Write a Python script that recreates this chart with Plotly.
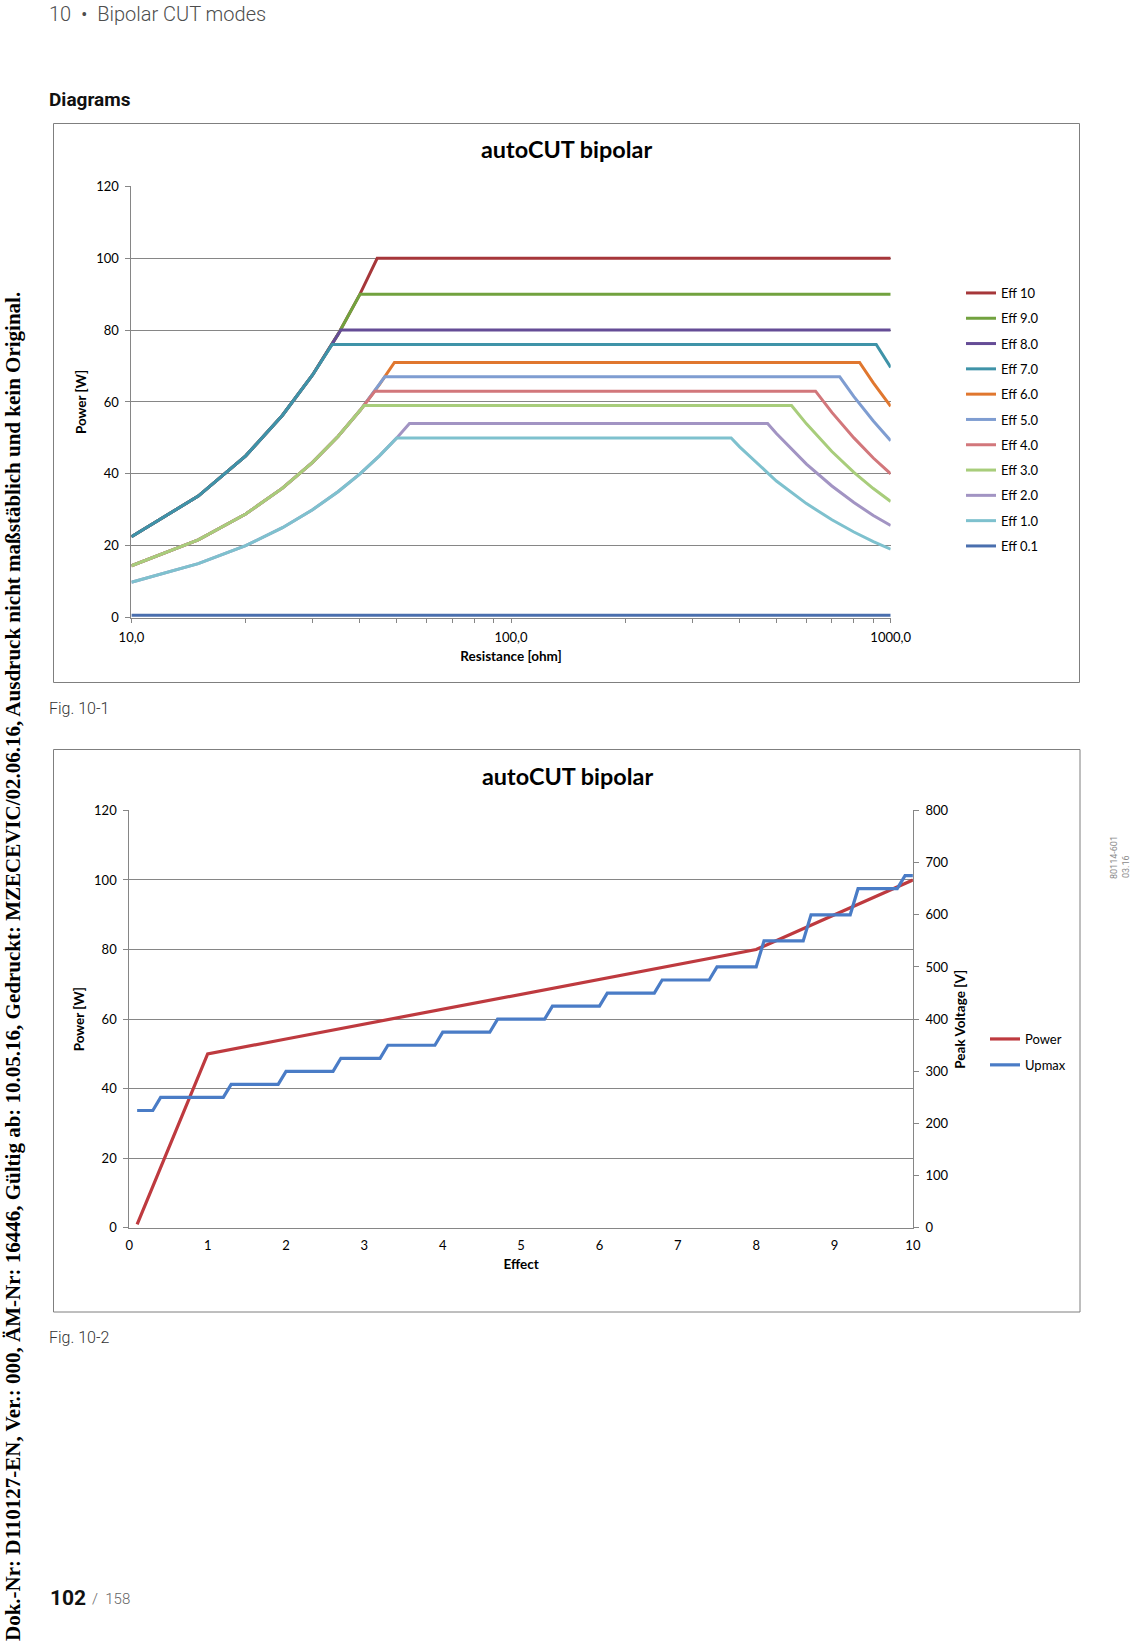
import plotly.graph_objects as go

W, H = 1134, 1643

# ---------------- Fig. 10-1 data (Resistance [ohm] -> Power [W]) ----------------
series_names = ["Eff 10", "Eff 9.0", "Eff 8.0", "Eff 7.0", "Eff 6.0", "Eff 5.0",
                "Eff 4.0", "Eff 3.0", "Eff 2.0", "Eff 1.0", "Eff 0.1"]
series_colors = ["#A6373A", "#72A23F", "#654C96", "#3F93A8", "#E0772F", "#7F9DD1",
                 "#D2777B", "#A8CD7B", "#A294C3", "#7EC1CE", "#4A6FAE"]

eff10_r = [10, 15, 20, 25, 30, 35, 40, 44.4, 1000]
eff10_p = [22.5, 33.8, 45.0, 56.3, 67.5, 78.8, 90.0, 100.0, 100.0]
eff9_r = [10, 15, 20, 25, 30, 35, 40, 1000]
eff9_p = [22.5, 33.8, 45.0, 56.3, 67.5, 78.8, 90.0, 90.0]
eff8_r = [10, 15, 20, 25, 30, 35.6, 1000]
eff8_p = [22.5, 33.8, 45.0, 56.3, 67.5, 80.0, 80.0]
eff7_r = [10, 15, 20, 25, 30, 33.8, 916, 1000]
eff7_p = [22.5, 33.8, 45.0, 56.3, 67.5, 76.0, 76.0, 69.6]
eff6_r = [10, 15, 20, 25, 30, 35, 40, 45, 49.3, 828, 900, 1000]
eff6_p = [14.4, 21.6, 28.8, 36.0, 43.2, 50.4, 57.6, 64.8, 71.0, 71.0, 65.3, 58.8]
eff5_r = [10, 15, 20, 25, 30, 35, 40, 45, 46.5, 734, 800, 900, 1000]
eff5_p = [14.4, 21.6, 28.8, 36.0, 43.2, 50.4, 57.6, 64.8, 67.0, 67.0, 61.5, 54.7, 49.2]
eff4_r = [10, 15, 20, 25, 30, 35, 40, 43.8, 634, 700, 800, 900, 1000]
eff4_p = [14.4, 21.6, 28.8, 36.0, 43.2, 50.4, 57.6, 63.0, 63.0, 57.1, 50.0, 44.4, 40.0]
eff3_r = [10, 15, 20, 25, 30, 35, 40, 41, 548, 600, 700, 800, 900, 1000]
eff3_p = [14.4, 21.6, 28.8, 36.0, 43.2, 50.4, 57.6, 59.0, 59.0, 53.9, 46.2, 40.4, 35.9, 32.3]
eff2_r = [10, 15, 20, 25, 30, 35, 40, 45, 50, 54, 474, 500, 600, 700, 800, 900, 1000]
eff2_p = [9.8, 15, 20, 25, 30, 35, 40, 45, 50, 54, 54, 51.2, 42.7, 36.6, 32.0, 28.4, 25.6]
eff1_r = [10, 15, 20, 25, 30, 35, 40, 45, 50, 380, 400, 500, 600, 700, 800, 900, 1000]
eff1_p = [9.8, 15, 20, 25, 30, 35, 40, 45, 50, 50, 47.5, 38.0, 31.7, 27.2, 23.8, 21.1, 19.0]
eff01_r = [10, 1000]
eff01_p = [0.6, 0.6]

top_r = [eff10_r, eff9_r, eff8_r, eff7_r, eff6_r, eff5_r, eff4_r, eff3_r, eff2_r, eff1_r, eff01_r]
top_p = [eff10_p, eff9_p, eff8_p, eff7_p, eff6_p, eff5_p, eff4_p, eff3_p, eff2_p, eff1_p, eff01_p]

x1_tickvals = [10, 20, 30, 40, 50, 60, 70, 80, 90, 100, 200, 300, 400, 500, 600, 700, 800, 900, 1000]
x1_ticktext = ["10,0", "", "", "", "", "", "", "", "", "100,0", "", "", "", "", "", "", "", "", "1000,0"]

# ---------------- Fig. 10-2 data (Effect -> Power [W], Upmax [V]) ----------------
effect_power = [0.1, 1, 2, 3, 4, 5, 6, 7, 8, 9, 10]
power_w = [1.0, 50.0, 54.3, 58.6, 62.9, 67.1, 71.4, 75.7, 80.0, 90.0, 100.0]
effect_upmax = [0.1, 0.3, 0.4, 1.2, 1.3, 1.9, 2.0, 2.6, 2.7, 3.2, 3.3, 3.9, 4.0, 4.6, 4.7, 5.3,
                5.4, 6.0, 6.1, 6.7, 6.8, 7.4, 7.5, 8.0, 8.1, 8.6, 8.7, 9.2, 9.3, 9.8, 9.9, 10.0]
upmax_v = [225, 225, 250, 250, 275, 275, 300, 300, 325, 325, 350, 350, 375, 375, 400, 400,
           425, 425, 450, 450, 475, 475, 500, 500, 550, 550, 600, 600, 650, 650, 675, 675]

# ---------------- layout helpers ----------------
def fx(px):
    return px / W

def fy(py):
    return 1 - py / H

CHART_FONT = "Lato, Carlito, Calibri, sans-serif"
PAGE_FONT = "Roboto, 'Open Sans', sans-serif"
GRID = "#868686"

fig = go.Figure()

for name, color, rr, pp in zip(series_names, series_colors, top_r, top_p):
    fig.add_trace(go.Scatter(x=rr, y=pp, mode="lines", name=name, legendgroup=name,
                             line=dict(color=color, width=3), xaxis="x", yaxis="y",
                             legend="legend"))

fig.add_trace(go.Scatter(x=effect_power, y=power_w, mode="lines", name="Power", legendgroup="Power",
                         line=dict(color="#BE3A3F", width=3.2), xaxis="x2", yaxis="y2",
                         legend="legend2"))
fig.add_trace(go.Scatter(x=effect_upmax, y=upmax_v, mode="lines", name="Upmax", legendgroup="Upmax",
                         line=dict(color="#4A7CC6", width=3.2), xaxis="x2", yaxis="y3",
                         legend="legend2"))

tickfont = dict(family=CHART_FONT, size=13, color="#000000")
titlefont = dict(family=CHART_FONT, size=13.5, color="#000000", weight="bold")
legfont = dict(family=CHART_FONT, size=13, color="#000000")

fig.update_layout(
    width=W, height=H,
    margin=dict(l=0, r=0, t=0, b=0, autoexpand=False),
    paper_bgcolor="white", plot_bgcolor="white",
    font=dict(family=CHART_FONT, color="#000000"),
    xaxis=dict(type="log", domain=[fx(131.4), fx(890.7)], anchor="y", range=[1, 3],
               tickvals=x1_tickvals, ticktext=x1_ticktext, ticks="outside", ticklen=4,
               tickcolor=GRID, showline=True, linecolor=GRID, linewidth=1, showgrid=False,
               tickfont=tickfont, ticklabelstandoff=4,
               title=dict(text="Resistance [ohm]", font=titlefont, standoff=7)),
    yaxis=dict(domain=[fy(617.5), fy(186.4)], anchor="x", range=[0, 120], dtick=20,
               ticks="outside", ticklen=5, tickcolor=GRID, showline=True, linecolor=GRID,
               showgrid=True, gridcolor=GRID, gridwidth=1, zeroline=False,
               tickfont=tickfont, ticklabelstandoff=4,
               title=dict(text="Power [W]", font=titlefont, standoff=6)),
    xaxis2=dict(domain=[fx(129.3), fx(912.9)], anchor="y2", range=[0, 10], dtick=1,
                ticks="", showline=True, linecolor=GRID, showgrid=False, zeroline=False,
                tickfont=tickfont, ticklabelstandoff=5,
                title=dict(text="Effect", font=titlefont, standoff=8)),
    yaxis2=dict(domain=[fy(1227.9), fy(810.4)], anchor="x2", range=[0, 120], dtick=20,
                ticks="outside", ticklen=5, tickcolor=GRID, showline=True, linecolor=GRID,
                showgrid=True, gridcolor=GRID, gridwidth=1, zeroline=False,
                tickfont=tickfont, ticklabelstandoff=4,
                title=dict(text="Power [W]", font=titlefont, standoff=6)),
    yaxis3=dict(overlaying="y2", side="right", anchor="x2", range=[0, 800], dtick=100,
                ticks="outside", ticklen=5, tickcolor=GRID, showline=True, linecolor=GRID,
                showgrid=False, zeroline=False, tickfont=tickfont, ticklabelstandoff=4,
                title=dict(text="Peak Voltage [V]", font=titlefont, standoff=7)),
    legend=dict(x=fx(961), y=fy(278), xanchor="left", yanchor="top", traceorder="grouped",
                tracegroupgap=5.4, font=legfont,
                bgcolor="rgba(0,0,0,0)", borderwidth=0),
    legend2=dict(x=fx(985), y=fy(1024), xanchor="left", yanchor="top", traceorder="grouped",
                 tracegroupgap=6, font=legfont,
                 bgcolor="rgba(0,0,0,0)", borderwidth=0),
    showlegend=True,
)

# chart frames
fig.add_shape(type="rect", xref="paper", yref="paper", x0=fx(53.5), x1=fx(1079.5),
              y0=fy(682.5), y1=fy(123.5), line=dict(color="#7F7F7F", width=1), layer="below")
fig.add_shape(type="rect", xref="paper", yref="paper", x0=fx(53.5), x1=fx(1080),
              y0=fy(1312), y1=fy(749.5), line=dict(color="#7F7F7F", width=1), layer="below")

ann = []
# chart titles
ann.append(dict(text="<b>autoCUT bipolar</b>", x=fx(566), y=fy(149), xref="paper", yref="paper",
                showarrow=False, xanchor="center", yanchor="middle",
                font=dict(family=CHART_FONT, size=23.4, color="#000")))
ann.append(dict(text="<b>autoCUT bipolar</b>", x=fx(567), y=fy(776), xref="paper", yref="paper",
                showarrow=False, xanchor="center", yanchor="middle",
                font=dict(family=CHART_FONT, size=23.4, color="#000")))
# page texts
ann.append(dict(text="10  •  Bipolar CUT modes", x=fx(47), y=fy(0), xref="paper", yref="paper",
                showarrow=False, xanchor="left", yanchor="top",
                font=dict(family=PAGE_FONT, size=20, color="#4D4D4D", weight=300)))
ann.append(dict(text="<b>Diagrams</b>", x=fx(47), y=fy(99), xref="paper", yref="paper",
                showarrow=False, xanchor="left", yanchor="middle",
                font=dict(family=PAGE_FONT, size=19, color="#111")))
ann.append(dict(text="Fig. 10-1", x=fx(47), y=fy(708), xref="paper", yref="paper",
                showarrow=False, xanchor="left", yanchor="middle",
                font=dict(family=PAGE_FONT, size=16, color="#333", weight=300)))
ann.append(dict(text="Fig. 10-2", x=fx(47), y=fy(1337), xref="paper", yref="paper",
                showarrow=False, xanchor="left", yanchor="middle",
                font=dict(family=PAGE_FONT, size=16, color="#333", weight=300)))
ann.append(dict(text="<b>102</b>", x=fx(48), y=fy(1598), xref="paper", yref="paper",
                showarrow=False, xanchor="left", yanchor="middle",
                font=dict(family=PAGE_FONT, size=21, color="#111")))
ann.append(dict(text="/  158", x=fx(90), y=fy(1599), xref="paper", yref="paper",
                showarrow=False, xanchor="left", yanchor="middle",
                font=dict(family=PAGE_FONT, size=15, color="#666", weight=300)))
ann.append(dict(text="<b>Dok.-Nr: D110127-EN, Ver.: 000, ÄM-Nr: 16446, Gültig ab: 10.05.16, "
                     "Gedruckt: MZECEVIC/02.06.16, Ausdruck nicht maßstäblich und kein Original.</b>",
                x=fx(13), y=fy(967), xref="paper", yref="paper", showarrow=False,
                xanchor="center", yanchor="middle", textangle=-90,
                font=dict(family="'Liberation Serif', 'Times New Roman', serif", size=21, color="#000")))
ann.append(dict(text="80114-601", x=fx(1114), y=fy(858), xref="paper", yref="paper", showarrow=False,
                xanchor="center", yanchor="middle", textangle=-90,
                font=dict(family=PAGE_FONT, size=9, color="#8A8A8A")))
ann.append(dict(text="03.16", x=fx(1126), y=fy(867), xref="paper", yref="paper", showarrow=False,
                xanchor="center", yanchor="middle", textangle=-90,
                font=dict(family=PAGE_FONT, size=9, color="#8A8A8A")))
fig.update_layout(annotations=ann)

fig.write_html("out.html",
               config={"displayModeBar": False},
               post_script="document.body.style.margin='0px'; document.documentElement.style.overflow='hidden';")
